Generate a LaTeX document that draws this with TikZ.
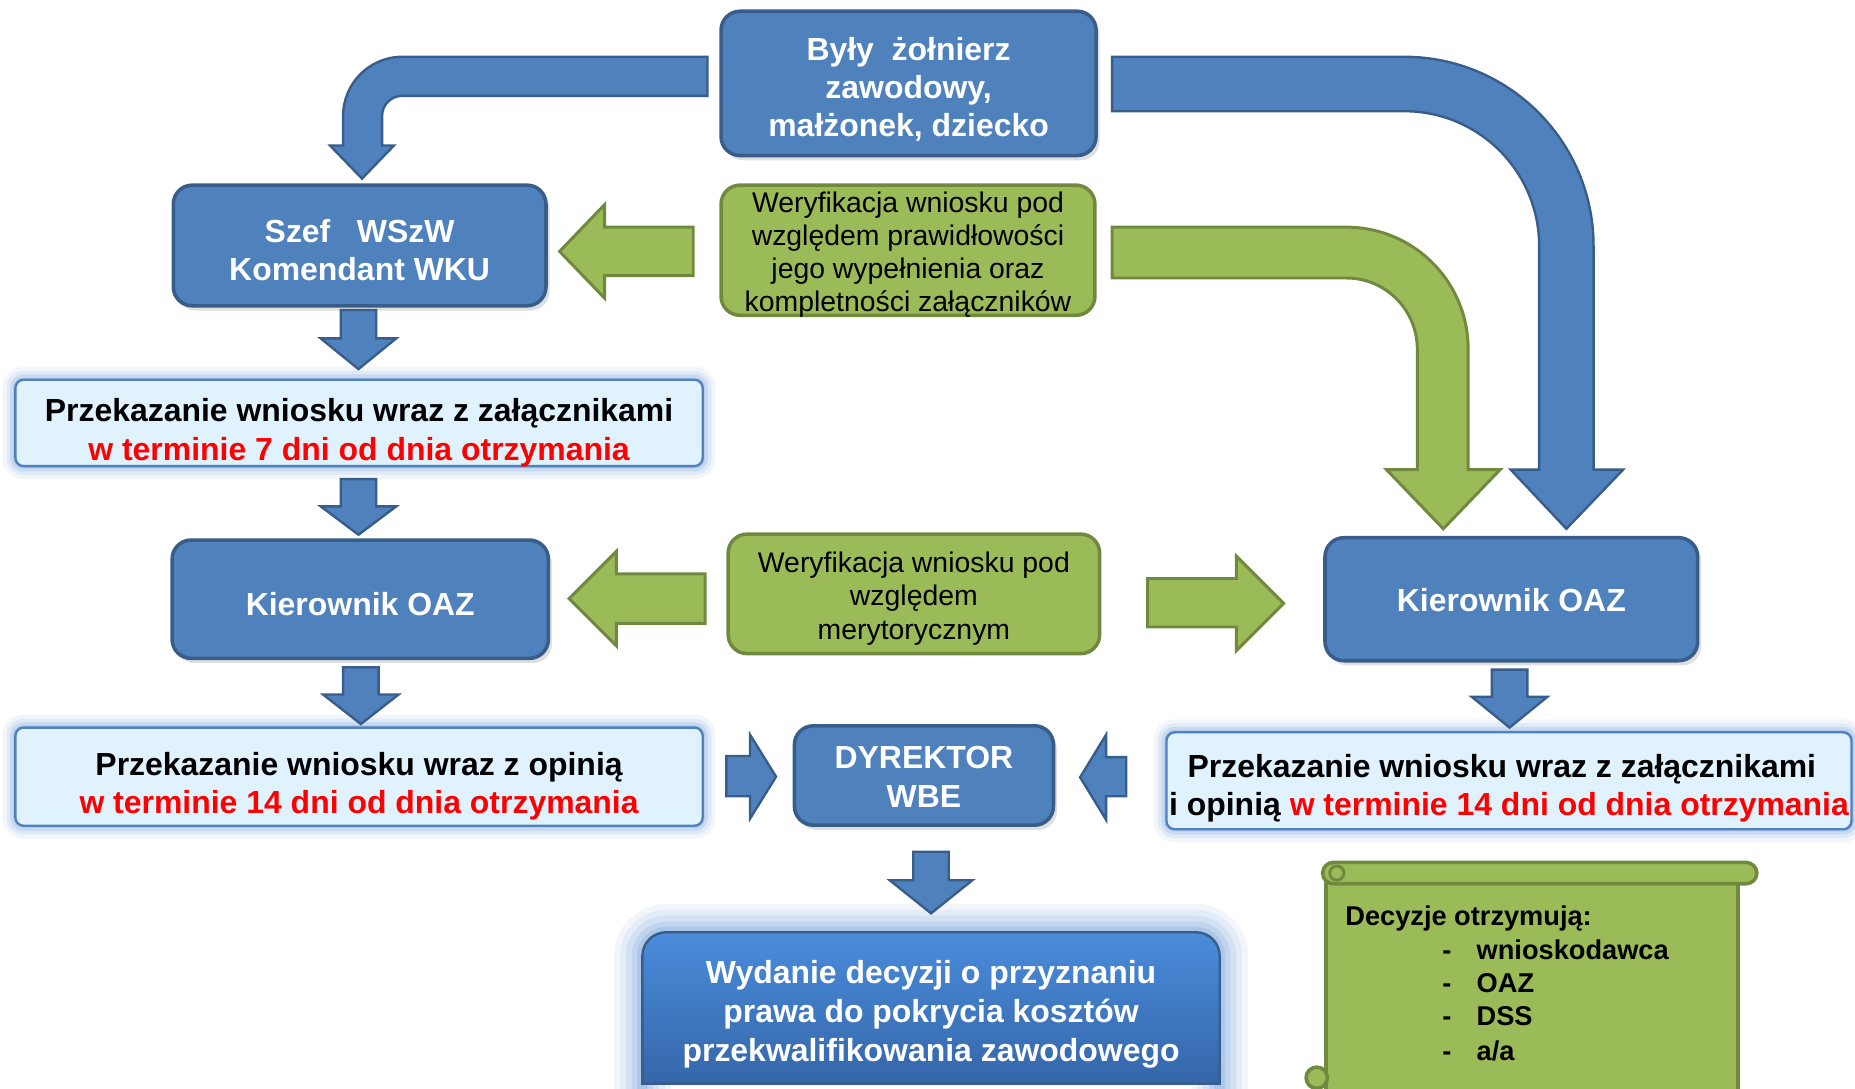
\documentclass[tikz,border=0pt]{standalone}
\usepackage{fontspec}
\setmainfont{Liberation Sans}
\usetikzlibrary{shadows}
\definecolor{bfill}{HTML}{4F81BD}
\definecolor{bdraw}{HTML}{385D8A}
\definecolor{gfill}{HTML}{9BBB59}
\definecolor{gdraw}{HTML}{71893F}
\definecolor{lfill}{HTML}{DFF2FD}
\definecolor{glowc}{HTML}{7FA8DC}
\definecolor{wtop}{HTML}{4A8CDB}
\definecolor{wbot}{HTML}{3566A9}
\definecolor{redtxt}{HTML}{FF0000}
\tikzset{
  glowsmall/.style={preaction={draw=glowc, line width=22pt, opacity=0.10},
                    preaction={draw=glowc, line width=15pt, opacity=0.16},
                    preaction={draw=glowc, line width=9pt, opacity=0.22},
                    preaction={draw=glowc, line width=4pt, opacity=0.3}},
  glowbig/.style={preaction={draw=glowc, line width=48pt, opacity=0.10},
                  preaction={draw=glowc, line width=38pt, opacity=0.13},
                  preaction={draw=glowc, line width=28pt, opacity=0.16},
                  preaction={draw=glowc, line width=18pt, opacity=0.22},
                  preaction={draw=glowc, line width=9pt, opacity=0.3}},
  bluebox/.style={draw=bdraw, fill=bfill, line width=3pt, rounded corners=16pt, inner sep=0pt,
                  drop shadow={shadow xshift=3pt, shadow yshift=-4pt, opacity=0.25}},
  greenbox/.style={draw=gdraw, fill=gfill, line width=3pt, rounded corners=16pt, inner sep=0pt},
  przbox/.style={draw=bfill, fill=lfill, line width=2pt, rounded corners=7pt, glowsmall, inner sep=0pt},
  whitetxt/.style={text=white, font=\fontsize{27}{32}\selectfont\bfseries, align=center, inner sep=0pt},
  blacktxt/.style={text=black, font=\fontsize{27}{33}\selectfont\bfseries, align=center, inner sep=0pt},
  greentxt/.style={text=black, font=\fontsize{24}{28}\selectfont, align=center, inner sep=0pt},
  scrolltxt/.style={text=black, font=\fontsize{23}{28}\selectfont\bfseries, inner sep=0pt, anchor=base west},
  barrow/.style={fill=bfill, draw=bdraw, line width=2pt, line join=miter},
  garrow/.style={fill=gfill, draw=gdraw, line width=2.5pt, line join=miter},
}
\begin{document}
\begin{tikzpicture}[x=1pt, y=-1pt]
\useasboundingbox (0,0) rectangle (1568,920);
\clip (0,0) rectangle (1568,920);

% ---- boxes ----
\node[bluebox, minimum width=317pt, minimum height=122pt] (byly) at (768,70.5) {};
\node[whitetxt] (byly-t) at ([yshift=-5pt]byly.center) {Były\ \ żołnierz\\zawodowy,\\małżonek, dziecko};

\node[bluebox, minimum width=315pt, minimum height=102pt] (szef) at (304,207.5) {};
\node[whitetxt] (szef-t) at ([yshift=-4pt]szef.center) {Szef\ \ \ WSzW\\Komendant WKU};

\node[greenbox, minimum width=316pt, minimum height=110pt] (ver1) at (767.5,211.5) {};
\node[greentxt] (ver1-t) at ([yshift=-4pt]ver1.center)
  {Weryfikacja wniosku pod\\względem prawidłowości\\jego wypełnienia oraz\\kompletności załączników};

\node[przbox, minimum width=581pt, minimum height=73pt] (prz1) at (303.5,357.5) {};
\node[blacktxt] (prz1-t) at ([yshift=-8pt]prz1.center)
  {Przekazanie wniosku wraz z załącznikami\\\textcolor{redtxt}{w terminie 7 dni od dnia otrzymania}};

\node[bluebox, minimum width=318pt, minimum height=100pt] (kierL) at (304.5,506.5) {};
\node[whitetxt] (kierL-t) at ([yshift=-4pt]kierL.center) {Kierownik OAZ};

\node[greenbox, minimum width=314pt, minimum height=101pt] (ver2) at (772.5,502) {};
\node[greentxt] (ver2-t) at ([yshift=-4pt]ver2.center) {Weryfikacja wniosku pod\\względem\\merytorycznym};

\node[bluebox, minimum width=315pt, minimum height=104pt] (kierR) at (1277.5,506.5) {};
\node[whitetxt] (kierR-t) at ([yshift=-1pt]kierR.center) {Kierownik OAZ};

\node[przbox, minimum width=581pt, minimum height=83pt] (prz2) at (303.5,656.5) {};
\node[blacktxt, font=\fontsize{27}{32}\selectfont\bfseries] (prz2-t) at ([yshift=-8pt]prz2.center)
  {Przekazanie wniosku wraz z opinią\\\textcolor{redtxt}{w terminie 14 dni od dnia otrzymania}};

\node[bluebox, minimum width=219pt, minimum height=84pt] (dyr) at (781,655.5) {};
\node[whitetxt, font=\fontsize{27}{33}\selectfont\bfseries] (dyr-t) at ([yshift=-1.5pt]dyr.center) {DYREKTOR\\WBE};

\node[przbox, minimum width=579pt, minimum height=82pt] (prz3) at (1275.5,660) {};
\node[blacktxt, font=\fontsize{27}{32}\selectfont\bfseries] (prz3-t) at ([yshift=-6pt]prz3.center)
  {Przekazanie wniosku wraz z załącznikami\rule{12pt}{0pt}\\i opinią \textcolor{redtxt}{w terminie 14 dni od dnia otrzymania}};

\path[glowbig] (543,930) -- (543,808) .. controls (543,797) and (552,788) .. (563,788)
  -- (1011,788) .. controls (1022,788) and (1031,797) .. (1031,808) -- (1031,930);
\draw[bdraw, line width=2pt, top color=wtop, bottom color=wbot] (543,916) -- (543,808) .. controls (543,797) and (552,788) .. (563,788)
  -- (1011,788) .. controls (1022,788) and (1031,797) .. (1031,808) -- (1031,916) -- cycle;
\node[minimum width=488pt, minimum height=128pt, inner sep=0pt] (wyd) at (787,852) {};
\node[whitetxt, font=\fontsize{27}{33}\selectfont\bfseries] (wyd-t) at ([yshift=-5pt]wyd.center)
  {Wydanie decyzji o przyznaniu\\prawa do pokrycia kosztów\\przekwalifikowania zawodowego};

% ---- bent arrows ----
\draw[barrow] (598,48) -- (340,48) .. controls (312.4,48) and (290,70.4) .. (290,98)
  -- (290,123) -- (279,123) -- (306,151) -- (333,123) -- (323,123) -- (323,98)
  .. controls (323,88.6) and (330.6,81) .. (340,81) -- (598,81) -- cycle;
\draw[barrow] (940,48) -- (1187,48) .. controls (1275.4,48) and (1347,119.6) .. (1347,208)
  -- (1347,397) -- (1372,397) -- (1324,447) -- (1277,397) -- (1301,397) -- (1301,208)
  .. controls (1301,145) and (1250,94) .. (1187,94) -- (940,94) -- cycle;
\draw[garrow] (940,192) -- (1138,192) .. controls (1194.9,192) and (1241,238.1) .. (1241,295)
  -- (1241,397) -- (1268,397) -- (1220,447) -- (1172,397) -- (1198,397) -- (1198,295)
  .. controls (1198,261.9) and (1171.1,235) .. (1138,235) -- (940,235) -- cycle;

% ---- straight block arrows ----
\draw[barrow] (288,262) -- (318,262) -- (318,286) -- (335,286) -- (303,312) -- (271,286) -- (288,286) -- cycle;
\draw[barrow] (288,405) -- (318,405) -- (318,428) -- (335,428) -- (303,452) -- (271,428) -- (288,428) -- cycle;
\draw[barrow] (290,564) -- (320,564) -- (320,587) -- (337,587) -- (305,612) -- (273,587) -- (290,587) -- cycle;
\draw[barrow] (1261,566) -- (1291,566) -- (1291,589) -- (1308,589) -- (1276,615) -- (1244,589) -- (1261,589) -- cycle;
\draw[barrow] (772,720) -- (802,720) -- (802,744) -- (822,744) -- (787,772) -- (752,744) -- (772,744) -- cycle;

\draw[garrow] (586,192) -- (511,192) -- (511,173) -- (473,212.5) -- (511,252) -- (511,233) -- (586,233) -- cycle;
\draw[garrow] (596,485) -- (521,485) -- (521,466) -- (481,506) -- (521,546) -- (521,527) -- (596,527) -- cycle;
\draw[garrow] (970,489) -- (1045,489) -- (1045,470) -- (1085,510) -- (1045,550) -- (1045,530) -- (970,530) -- cycle;

\draw[barrow] (614,639) -- (634,639) -- (634,621) -- (656,656.5) -- (634,692) -- (634,673) -- (614,673) -- cycle;
\draw[barrow] (952,640) -- (935,640) -- (935,621) -- (913,657) -- (935,693) -- (935,673) -- (952,673) -- cycle;

% ---- scroll ----
\draw[gdraw, fill=gfill, line width=3pt] (1121,935) -- (1121,745) -- (1469,745) -- (1469,935);
\draw[gdraw, fill=gfill, line width=3pt, rounded corners=9pt] (1118,729) rectangle (1485,747);
\draw[gdraw, fill=gfill, line width=2.5pt] (1130,738) circle (6pt);
\draw[gdraw, fill=gfill, line width=3pt] (1113,911) circle (9pt);
\node[scrolltxt] (dec) at (1137,782) {Decyzje otrzymują:};
\node[scrolltxt] (dash1) at (1219,811) {-};
\node[scrolltxt] (dash2) at (1219,839) {-};
\node[scrolltxt] (dash3) at (1219,867) {-};
\node[scrolltxt] (dash4) at (1219,896) {-};
\node[scrolltxt] (it1) at (1248,811) {wnioskodawca};
\node[scrolltxt] (it2) at (1248,839) {OAZ};
\node[scrolltxt] (it3) at (1248,867) {DSS};
\node[scrolltxt] (it4) at (1248,896) {a/a};
\end{tikzpicture}
\end{document}
